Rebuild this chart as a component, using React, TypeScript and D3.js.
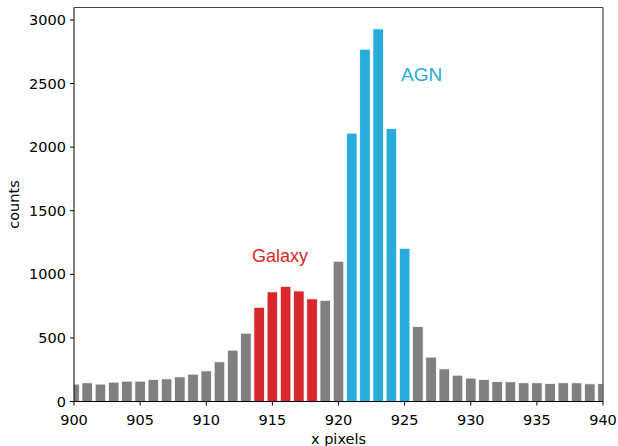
import React from 'react';
import * as d3 from 'd3';

// pixel positions along x
const pixels = d3.range(900, 941);
// counts per pixel
const counts = [
  137, 147, 137, 152, 160, 160, 173, 178, 194, 215,
  241, 312, 404, 537, 741, 862, 906, 869, 807, 796,
  1103, 2110, 2770, 2930, 2147, 1205, 589, 349, 257, 207,
  184, 173, 157, 155, 147, 147, 141, 147, 147, 139,
  141,
];
const galaxyPixels = [914, 915, 916, 917, 918];
const agnPixels = [921, 922, 923, 924, 925];
const xTicks = [900, 905, 910, 915, 920, 925, 930, 935, 940];
const yTicks = [0, 500, 1000, 1500, 2000, 2500, 3000];

const W = 618;
const H = 446;
const m = { left: 74, right: 603, top: 7.5, bottom: 401.5 };

const GRAY = '#808080';
const RED = '#d9282b';
const BLUE = '#27acdb';

function App() {
  const x = d3.scaleLinear().domain([900, 940]).range([m.left, m.right]);
  const y = d3.scaleLinear().domain([0, 3098]).range([m.bottom, m.top]);
  const bw = x(900.8) - x(900);

  const colorOf = (p: number) =>
    galaxyPixels.includes(p) ? RED : agnPixels.includes(p) ? BLUE : GRAY;

  const font = '"DejaVu Sans", sans-serif';

  return (
    <svg width={W} height={H} style={{ position: 'absolute', left: 0, top: 0, background: '#fff' }}>
      <defs>
        <clipPath id="plot">
          <rect x={m.left} y={m.top} width={m.right - m.left} height={m.bottom - m.top} />
        </clipPath>
      </defs>
      <g clipPath="url(#plot)">
        {pixels.map((p, i) => (
          <rect
            key={p}
            x={x(p) - bw / 2}
            y={y(counts[i])}
            width={bw}
            height={y(0) - y(counts[i])}
            fill={colorOf(p)}
            stroke="#fff"
            strokeWidth={0.8}
          />
        ))}
      </g>

      {/* spines */}
      <line x1={m.left} x2={m.right} y1={m.top} y2={m.top} stroke="#444" strokeWidth={1} />
      <line x1={m.right} x2={m.right} y1={m.top} y2={m.bottom} stroke="#555" strokeWidth={1.3} />
      <line x1={m.left} x2={m.left} y1={m.top} y2={m.bottom} stroke="#000" strokeWidth={1} />
      <line x1={m.left} x2={m.right} y1={m.bottom} y2={m.bottom} stroke="#000" strokeWidth={1} />

      {/* x ticks */}
      {xTicks.map(t => (
        <g key={t}>
          <line x1={x(t)} x2={x(t)} y1={m.bottom} y2={m.bottom + 4} stroke="#000" strokeWidth={1} />
          <text x={x(t)} y={m.bottom + 23} textAnchor="middle" fontFamily={font} fontSize={14.5} fill="#000">
            {t}
          </text>
        </g>
      ))}
      {/* y ticks */}
      {yTicks.map(t => (
        <g key={t}>
          <line x1={m.left - 4} x2={m.left} y1={y(t)} y2={y(t)} stroke="#000" strokeWidth={1} />
          <text x={m.left - 8} y={y(t) + 5} textAnchor="end" fontFamily={font} fontSize={14.5} fill="#000">
            {t}
          </text>
        </g>
      ))}

      <text x={(m.left + m.right) / 2} y={444} textAnchor="middle" fontFamily={font} fontSize={14.5} fill="#000">
        x pixels
      </text>
      <text
        transform={`translate(19,${(m.top + m.bottom) / 2}) rotate(-90)`}
        textAnchor="middle"
        fontFamily={font}
        fontSize={14.5}
        fill="#000"
      >
        counts
      </text>

      <text x={252} y={262} fontFamily='"Liberation Sans", Arial, sans-serif' fontSize={18} fill={RED}>
        Galaxy
      </text>
      <text x={401} y={81} fontFamily='"Liberation Sans", Arial, sans-serif' fontSize={19} fill={BLUE}>
        AGN
      </text>
    </svg>
  );
}

export default App;
